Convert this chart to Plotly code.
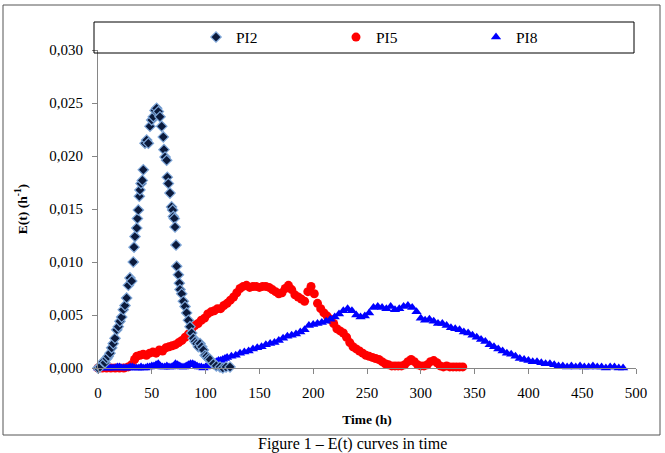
import plotly.graph_objects as go

# ---- data ----
pi2_t = [0, 1.9, 4.9, 6.5, 8.1, 9.5, 11.2, 12.7, 14.2, 15.8, 17.4, 18.9, 20.4, 22.0, 23.5, 25.1,
         26.6, 28.2, 29.7, 31.3, 32.8, 33.5, 34.4, 36.0, 36.6, 37.5, 38.4, 39.0, 40.0, 41.2, 42.1,
         43.7, 45.2, 46.8, 48.3, 49.9, 51.4, 53.0, 54.5, 56.1, 57.6, 59.2, 60.7, 61.3, 62.3, 63.8,
         64.4, 65.4, 66.9, 68.4, 69.4, 70.0, 70.9, 71.6, 72.5, 73.1, 74.7, 75.6, 76.2, 77.8, 79.3,
         80.9, 82.4, 84.0, 85.5, 87.1, 88.6, 90.2, 91.7, 93.3, 94.8, 96.4, 97.9, 99.5, 101.0, 102.5,
         104.1, 107.2, 110.0, 113.4, 116.0, 119.0, 122.7]
pi2_e = [0.0000, 0.0001, 0.0006, 0.0005, 0.0009, 0.0011, 0.0014, 0.0019, 0.0023, 0.0028, 0.0036,
         0.0039, 0.0044, 0.0048, 0.0055, 0.0059, 0.0066, 0.0078, 0.0085, 0.0082, 0.0100, 0.0114,
         0.0124, 0.0132, 0.0141, 0.0149, 0.0162, 0.0168, 0.0174, 0.0177, 0.0187, 0.0212, 0.0215,
         0.0212, 0.0228, 0.0234, 0.0237, 0.0243, 0.0245, 0.0242, 0.0237, 0.0228, 0.0218, 0.0206,
         0.0199, 0.0196, 0.0180, 0.0174, 0.0165, 0.0152, 0.0149, 0.0143, 0.0141, 0.0133, 0.0116,
         0.0096, 0.0088, 0.0080, 0.0074, 0.0070, 0.0063, 0.0058, 0.0052, 0.0045, 0.0039, 0.0033,
         0.0028, 0.0025, 0.0023, 0.0020, 0.0023, 0.0020, 0.0017, 0.0012, 0.0011, 0.0009, 0.0008,
         0.0004, 0.0002, 0.0001, 0.0000, 0.0001, 0.0001]

pi5_t = [0, 4, 8, 12, 16, 20, 24, 28, 31, 34, 36, 39, 42, 45, 48, 51, 54, 57, 60, 63, 66, 69, 72,
         75, 78, 81, 84, 87, 90, 93, 96, 99, 102, 105, 108, 111, 114, 117, 120, 123, 126, 129, 132,
         135, 138, 141, 144, 147, 150, 153, 156, 159, 162, 165, 168, 171, 174, 177, 180, 183, 186,
         189, 192, 195, 198, 201, 204, 207, 210, 213, 216, 219, 222, 225, 228, 231, 234, 237, 240,
         243, 246, 249, 252, 255, 258, 261, 264, 267, 270, 273, 276, 279, 282, 285, 288, 291, 294,
         297, 300, 303, 306, 309, 312, 315, 318, 321, 324, 327, 330, 333, 336, 339]
pi5_e = [0.0000, 0.0000, 0.0000, 0.0000, 0.0000, 0.0000, 0.0000, 0.0001, 0.0003, 0.0008, 0.0011,
         0.0012, 0.0013, 0.0012, 0.0014, 0.0015, 0.0014, 0.0017, 0.0016, 0.0019, 0.0020, 0.0021,
         0.0022, 0.0024, 0.0026, 0.0029, 0.0032, 0.0036, 0.0040, 0.0042, 0.0045, 0.0047, 0.0051,
         0.0053, 0.0054, 0.0056, 0.0056, 0.0059, 0.0061, 0.0064, 0.0067, 0.0071, 0.0075, 0.0077,
         0.0078, 0.0076, 0.0077, 0.0077, 0.0076, 0.0077, 0.0077, 0.0076, 0.0074, 0.0072, 0.0070,
         0.0071, 0.0075, 0.0078, 0.0074, 0.0069, 0.0067, 0.0065, 0.0063, 0.0072, 0.0077, 0.0070,
         0.0061, 0.0056, 0.0052, 0.0049, 0.0046, 0.0042, 0.0037, 0.0035, 0.0033, 0.0029, 0.0024,
         0.0020, 0.0018, 0.0016, 0.0014, 0.0012, 0.0011, 0.0010, 0.0009, 0.0008, 0.0006, 0.0004,
         0.0003, 0.0002, 0.0002, 0.0002, 0.0002, 0.0003, 0.0006, 0.0008, 0.0006, 0.0003, 0.0002,
         0.0002, 0.0003, 0.0006, 0.0007, 0.0005, 0.0002, 0.0001, 0.0002, 0.0001, 0.0001, 0.0001,
         0.0001, 0.0001]

pi8_t = [0, 2, 4, 6, 8, 10, 12, 14, 16, 18, 20, 22, 24, 26, 28, 30, 32, 34, 36, 38, 40, 42, 44,
         46, 48, 50, 52, 54, 56, 58, 60, 62, 64, 66, 68, 70, 72, 74, 76, 78, 80, 82, 84, 86, 88,
         90, 92, 94, 96, 98, 100, 102, 104, 106, 108, 110, 112, 114, 116, 118, 120, 124, 128, 132,
         136, 140, 144, 148, 152, 156, 160, 164, 168, 172, 176, 180, 184, 188, 192, 196, 200, 204,
         208, 212, 216, 220, 224, 228, 232, 236, 240, 244, 248, 252, 256, 260, 264, 268, 272, 276,
         280, 284, 288, 292, 296, 300, 304, 308, 312, 316, 320, 324, 328, 332, 336, 340, 344, 348,
         352, 356, 360, 364, 368, 372, 376, 380, 384, 388, 392, 396, 400, 404, 408, 412, 416, 420,
         424, 428, 432, 436, 440, 444, 448, 452, 456, 460, 464, 468, 472, 476, 480, 484, 488]
pi8_e = [0.0000, 0.0000, 0.0000, 0.0001, 0.0000, 0.0000, 0.0000, 0.0000, 0.0000, 0.0001, 0.0001,
         0.0000, 0.0000, 0.0000, 0.0000, 0.0001, 0.0001, 0.0000, 0.0000, 0.0000, 0.0001, 0.0000,
         0.0000, 0.0001, 0.0001, 0.0002, 0.0002, 0.0003, 0.0004, 0.0002, 0.0001, 0.0001, 0.0002,
         0.0001, 0.0001, 0.0002, 0.0004, 0.0003, 0.0002, 0.0001, 0.0001, 0.0002, 0.0003, 0.0004,
         0.0004, 0.0003, 0.0002, 0.0001, 0.0001, 0.0000, 0.0001, 0.0002, 0.0003, 0.0004, 0.0005,
         0.0006, 0.0007, 0.0007, 0.0008, 0.0009, 0.0010, 0.0011, 0.0012, 0.0014, 0.0015, 0.0016,
         0.0018, 0.0019, 0.0020, 0.0022, 0.0023, 0.0024, 0.0026, 0.0028, 0.0030, 0.0031, 0.0032,
         0.0034, 0.0036, 0.0040, 0.0041, 0.0042, 0.0043, 0.0044, 0.0046, 0.0048, 0.0051, 0.0054,
         0.0056, 0.0054, 0.0050, 0.0048, 0.0049, 0.0052, 0.0057, 0.0058, 0.0057, 0.0056, 0.0058,
         0.0055, 0.0056, 0.0058, 0.0059, 0.0057, 0.0053, 0.0047, 0.0045, 0.0046, 0.0044, 0.0042,
         0.0042, 0.0040, 0.0038, 0.0037, 0.0036, 0.0034, 0.0033, 0.0031, 0.0029, 0.0027, 0.0025,
         0.0022, 0.0020, 0.0018, 0.0016, 0.0014, 0.0013, 0.0011, 0.0009, 0.0008, 0.0007, 0.0006,
         0.0006, 0.0005, 0.0004, 0.0004, 0.0003, 0.0002, 0.0002, 0.0001, 0.0002, 0.0001, 0.0002,
         0.0001, 0.0001, 0.0002, 0.0001, 0.0001, 0.0000, 0.0001, 0.0001, 0.0000, 0.0000]

x_ticks = [0, 50, 100, 150, 200, 250, 300, 350, 400, 450, 500]
y_ticks = [0.000, 0.005, 0.010, 0.015, 0.020, 0.025, 0.030]

FONT = "Times New Roman, Liberation Serif, serif"
AX = "#868686"

fig = go.Figure()
fig.add_trace(go.Scatter(x=pi5_t, y=pi5_e, mode="markers", name="PI5", legendrank=2,
                         cliponaxis=False,
                         marker=dict(symbol="circle", size=9, color="#ff0000")))
fig.add_trace(go.Scatter(x=pi8_t, y=pi8_e, mode="markers", name="PI8", legendrank=3,
                         cliponaxis=False,
                         marker=dict(symbol="triangle-up", size=9, color="#0000ff")))
fig.add_trace(go.Scatter(x=pi2_t, y=pi2_e, mode="markers", name="PI2", legendrank=1,
                         cliponaxis=False,
                         marker=dict(symbol="diamond", size=8, color="#0b1a3c",
                                     line=dict(color="#7ea6d8", width=1.2))))

L, R, T, B = 98, 29, 50, 85
pw, ph = 665 - L - R, 453 - T - B


def px(xp):
    return (xp - L) / pw


def py(yp):
    return (453 - B - yp) / ph


fig.update_layout(
    width=665, height=453,
    margin=dict(l=L, r=R, t=T, b=B),
    paper_bgcolor="white", plot_bgcolor="white",
    separators=", ",
    font=dict(family=FONT, size=15, color="black"),
    showlegend=True,
    legend=dict(orientation="h", x=px(196), xanchor="left", y=py(37.5), yanchor="middle",
                entrywidth=95, entrywidthmode="pixels", bgcolor="rgba(0,0,0,0)",
                font=dict(family=FONT, size=15.5), traceorder="normal"),
    xaxis=dict(range=[0, 500], tickvals=x_ticks, ticktext=[str(v) for v in x_ticks],
               showline=True, linecolor=AX, linewidth=1, ticks="outside", ticklen=5,
               tickcolor=AX, showgrid=False, zeroline=False, ticklabelstandoff=6,
               tickfont=dict(size=15),
               title=dict(text="<b>Time (h)</b>", font=dict(size=13.5), standoff=14)),
    yaxis=dict(range=[0, 0.030], tickvals=y_ticks, tickformat=".3f",
               showline=True, linecolor=AX, linewidth=1, ticks="outside", ticklen=5,
               tickcolor=AX, showgrid=False, zeroline=False, ticklabelstandoff=6,
               tickfont=dict(size=15),
               title=dict(text="<b>E(t) (h<sup>-1</sup>)</b>", font=dict(size=13.5), standoff=18)),
    shapes=[
        dict(type="rect", xref="paper", yref="paper", x0=px(3), x1=px(660), y0=py(435), y1=py(5),
             line=dict(color="#555555", width=1), fillcolor="rgba(0,0,0,0)", layer="below"),
        dict(type="rect", xref="paper", yref="paper", x0=px(94), x1=px(634), y0=py(53), y1=py(22),
             line=dict(color="black", width=1), fillcolor="rgba(0,0,0,0)"),
    ],
    annotations=[
        dict(text="Figure 1 – E(t) curves in time", xref="paper", yref="paper",
             x=px(352), y=py(444), xanchor="center", yanchor="middle", showarrow=False,
             font=dict(family=FONT, size=16)),
    ],
)

fig.write_html("out.html")
